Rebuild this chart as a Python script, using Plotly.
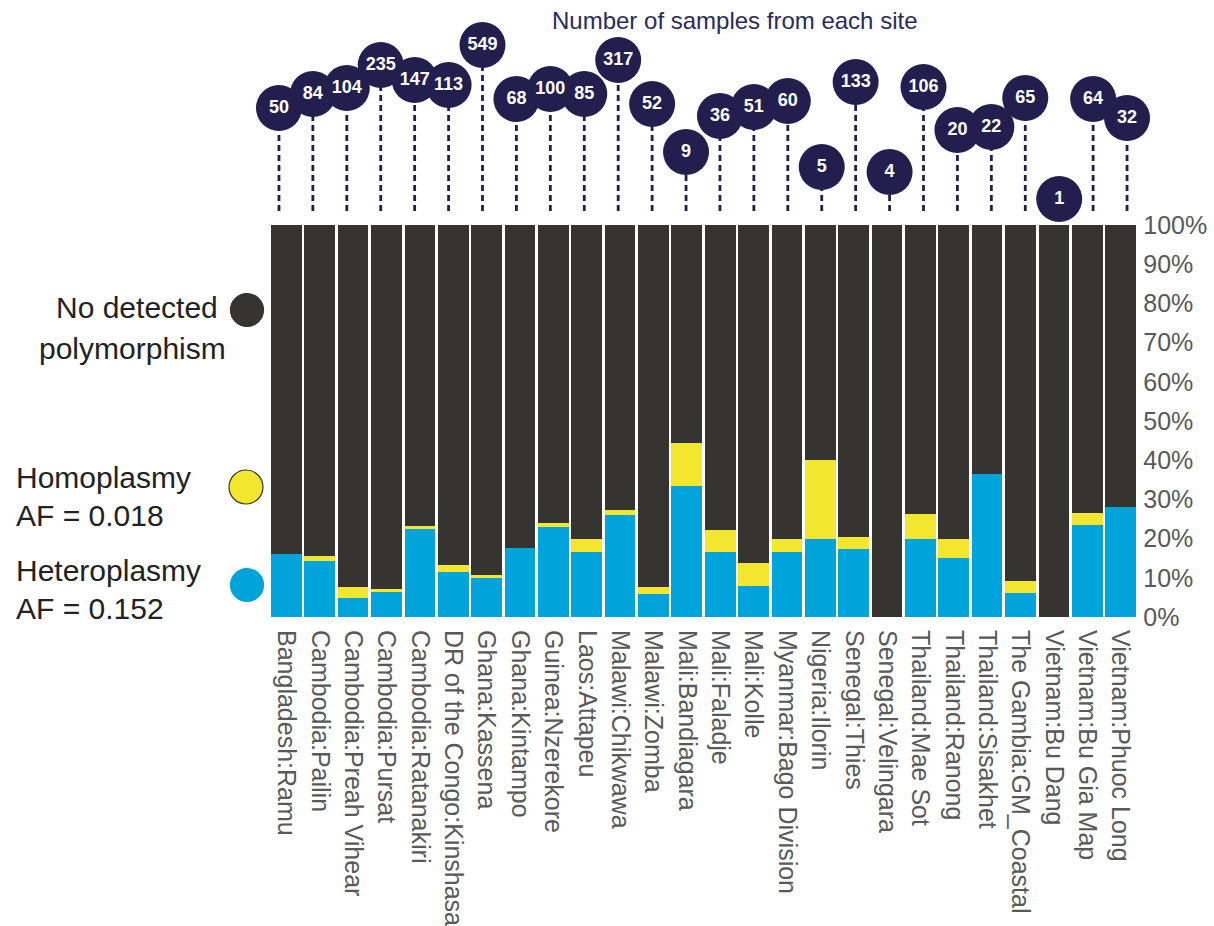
import plotly.graph_objects as go

# ---- data -------------------------------------------------------------
sites = [
    "Bangladesh:Ramu", "Cambodia:Pailin", "Cambodia:Preah Vihear", "Cambodia:Pursat",
    "Cambodia:Ratanakiri", "DR of the Congo:Kinshasa", "Ghana:Kassena", "Ghana:Kintampo",
    "Guinea:Nzerekore", "Laos:Attapeu", "Malawi:Chikwawa", "Malawi:Zomba",
    "Mali:Bandiagara", "Mali:Faladje", "Mali:Kolle", "Myanmar:Bago Division",
    "Nigeria:Ilorin", "Senegal:Thies", "Senegal:Velingara", "Thailand:Mae Sot",
    "Thailand:Ranong", "Thailand:Sisakhet", "The Gambia:GM_Coastal", "Vietnam:Bu Dang",
    "Vietnam:Bu Gia Map", "Vietnam:Phuoc Long",
]

# share of samples (%) per site
heteroplasmy_pct = [16.0, 14.3, 4.8, 6.4, 22.4, 11.5, 10.0, 17.6, 23.0, 16.5, 25.9, 5.8, 33.3,
                    16.7, 7.8, 16.7, 20.0, 17.3, 0.0, 19.8, 15.0, 36.4, 6.2, 0.0, 23.4, 28.1]
homoplasmy_pct = [0.0, 1.2, 2.9, 0.8, 0.7, 1.8, 0.7, 0.0, 1.0, 3.5, 1.5, 1.9, 11.1,
                  5.5, 5.9, 3.3, 20.0, 3.0, 0.0, 6.6, 5.0, 0.0, 3.0, 0.0, 3.2, 0.0]
samples = [50, 84, 104, 235, 147, 113, 549, 68, 100, 85, 317, 52, 9,
           36, 51, 60, 5, 133, 4, 106, 20, 22, 65, 1, 64, 32]

pct_ticks = [0, 10, 20, 30, 40, 50, 60, 70, 80, 90, 100]

# vertical stagger of the sample-count badges (px above the bars)
badge_lift = [103, 117, 123, 146, 131, 126, 166, 112, 122, 117, 151, 107, 59,
              95, 104, 110, 44, 129, 39, 124, 81, 84, 113, 12, 112, 93]

# ---- styling ------------------------------------------------------------
W, H = 1214, 926
BLUE = "#00a3da"
YELLOW = "#f3e62f"
DARK = "#363430"
NAVY = "#221f4f"
GREY = "#595959"
FONT = "Liberation Sans, Arial, Helvetica, sans-serif"

none_pct = [round(100 - a - b, 1) for a, b in zip(heteroplasmy_pct, homoplasmy_pct)]

fig = go.Figure()

fig.add_trace(go.Bar(x=sites, y=heteroplasmy_pct, marker=dict(color=BLUE, line=dict(width=0)),
                     xaxis="x", yaxis="y", hoverinfo="x+y"))
fig.add_trace(go.Bar(x=sites, y=homoplasmy_pct, marker=dict(color=YELLOW, line=dict(width=0)),
                     xaxis="x", yaxis="y", hoverinfo="x+y"))
fig.add_trace(go.Bar(x=sites, y=none_pct, marker=dict(color=DARK, line=dict(width=0)),
                     xaxis="x", yaxis="y", hoverinfo="x+y"))

# dotted stems for the badges
stem_x, stem_y = [], []
for s, lift in zip(sites, badge_lift):
    stem_x += [s, s, None]
    stem_y += [0, lift, None]
fig.add_trace(go.Scatter(x=stem_x, y=stem_y, mode="lines", xaxis="x2", yaxis="y2",
                         line=dict(color=NAVY, width=2.8, dash="6px,4px"),
                         hoverinfo="skip", cliponaxis=False))

# badges with the sample counts
fig.add_trace(go.Scatter(x=sites, y=badge_lift, mode="markers+text", xaxis="x2", yaxis="y2",
                         marker=dict(size=46, color=NAVY, line=dict(width=0)),
                         text=[str(n) for n in samples], textposition="middle center",
                         textfont=dict(family=FONT, size=18, color="white", weight="bold"),
                         cliponaxis=False, hoverinfo="text"))

annotations = [
    dict(text="Number of samples from each site", x=734 / W, y=1 - 20 / H, xref="paper", yref="paper",
         xanchor="center", yanchor="middle", showarrow=False,
         font=dict(family=FONT, size=24, color="#2b2a5c")),
]

legend_text = [
    ("No detected", 220, 308, "right"),
    ("polymorphism", 228, 348, "right"),
    ("Homoplasmy", 14, 477, "left"),
    ("AF = 0.018", 14, 515, "left"),
    ("Heteroplasmy", 14, 570, "left"),
    ("AF = 0.152", 14, 608, "left"),
]
for txt, px, py, anchor in legend_text:
    annotations.append(dict(text=txt, x=px / W, y=1 - py / H, xref="paper", yref="paper",
                            xanchor=anchor, yanchor="middle", showarrow=False,
                            font=dict(family=FONT, size=30, color="#222222")))

shapes = []
for cx, cy, r, fill, edge in [(247, 310, 16.5, DARK, DARK),
                              (246, 487, 17, YELLOW, "#333333"),
                              (247, 585, 16.5, BLUE, BLUE)]:
    shapes.append(dict(type="circle", xref="paper", yref="paper",
                       x0=(cx - r) / W, x1=(cx + r) / W,
                       y0=1 - (cy + r) / H, y1=1 - (cy - r) / H,
                       fillcolor=fill, line=dict(color=edge, width=1.2), layer="above"))

fig.update_layout(
    width=W, height=H,
    margin=dict(l=0, r=0, t=0, b=0),
    paper_bgcolor="white", plot_bgcolor="white",
    barmode="stack", bargap=0.08,
    showlegend=False,
    xaxis=dict(domain=[269.7 / W, 1137.3 / W], type="category", categoryorder="array",
               categoryarray=sites, range=[-0.5, 25.5], anchor="y",
               tickangle=90, ticks="", ticklabelstandoff=12,
               tickfont=dict(family=FONT, size=25, color=GREY),
               showline=False, showgrid=False, zeroline=False, automargin=False),
    yaxis=dict(domain=[1 - 617 / H, 1 - 225 / H], range=[0, 100], anchor="x", side="right",
               tickvals=pct_ticks, ticktext=[f"{v}%" for v in pct_ticks], ticks="",
               ticklabelstandoff=5, tickfont=dict(family=FONT, size=25, color=GREY),
               showline=False, showgrid=False, zeroline=False, automargin=False),
    xaxis2=dict(domain=[262.0 / W, 1144.0 / W], type="category", categoryorder="array",
                categoryarray=sites, range=[-0.5, 25.5], anchor="y2", visible=False),
    yaxis2=dict(domain=[1 - 211 / H, 1], range=[0, 211], anchor="x2", visible=False),
    annotations=annotations,
    shapes=shapes,
)

fig.write_html("out.html")
